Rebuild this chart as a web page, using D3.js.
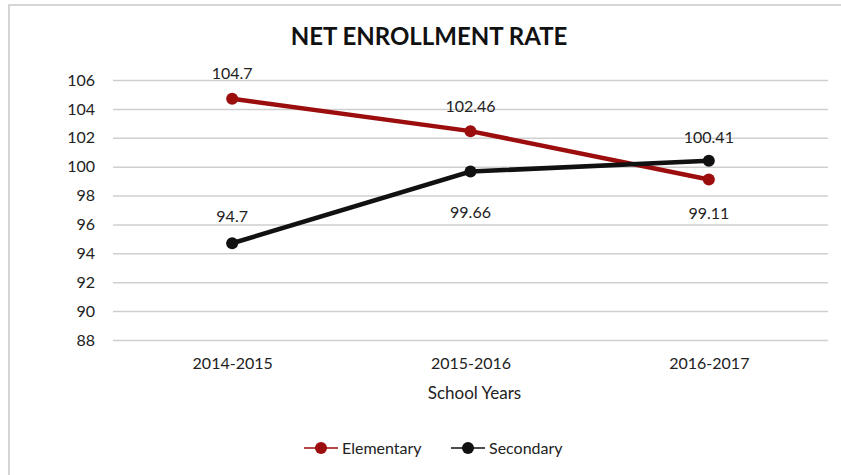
<!DOCTYPE html>
<html>
<head>
<meta charset="utf-8">
<script src="https://cdnjs.cloudflare.com/ajax/libs/d3/7.8.5/d3.min.js"></script>
<style>
body { margin: 0; background: #fff; }
text { font-family: Lato, "Open Sans", sans-serif; fill: #222; }
</style>
</head>
<body>
<script>
var years = ["2014-2015", "2015-2016", "2016-2017"];
var elementary = [104.7, 102.46, 99.11];
var secondary = [94.7, 99.66, 100.41];
var yTicks = [88, 90, 92, 94, 96, 98, 100, 102, 104, 106];

var W = 841, H = 475;
var margin = {top: 80, right: 13, bottom: 135, left: 113},
    width = W - margin.left - margin.right,
    height = H - margin.top - margin.bottom;

var svg = d3.select("body").append("svg")
    .attr("width", W)
    .attr("height", H);

// outer frame
svg.append("rect")
    .attr("x", 9).attr("y", 5)
    .attr("width", 900).attr("height", 600)
    .attr("fill", "none")
    .attr("stroke", "#c8c8c8")
    .attr("stroke-width", 1.5);

svg.append("text")
    .attr("x", 429).attr("y", 45)
    .attr("text-anchor", "middle")
    .style("font-size", "24px")
    .style("font-weight", "bold")
    .style("fill", "#111")
    .text("NET ENROLLMENT RATE");

var g = svg.append("g")
    .attr("transform", "translate(" + margin.left + "," + margin.top + ")");

var x = d3.scalePoint()
    .domain(years)
    .range([0, width])
    .padding(0.5);

var y = d3.scaleLinear()
    .domain([88, 106])
    .range([height, 0]);

// gridlines
var yAxis = d3.axisLeft(y)
    .tickValues(yTicks)
    .tickSize(-width)
    .tickPadding(18);

g.append("g")
    .attr("class", "y axis")
    .call(yAxis)
    .call(function(a) {
        a.select(".domain").remove();
        a.selectAll("line").attr("stroke", "#cfcfcf").attr("stroke-width", 1.5);
        a.selectAll("text").style("font-size", "16px").style("fill", "#222");
    });

var xAxis = d3.axisBottom(x)
    .tickSize(0)
    .tickPadding(18);

g.append("g")
    .attr("class", "x axis")
    .attr("transform", "translate(0," + height + ")")
    .call(xAxis)
    .call(function(a) {
        a.select(".domain").remove();
        a.selectAll("text").style("font-size", "16px").style("fill", "#222");
    });

g.append("text")
    .attr("x", width / 2 + 4).attr("y", height + 59)
    .attr("text-anchor", "middle")
    .style("font-size", "17px")
    .text("School Years");

var series = [
    {name: "Elementary", values: elementary, color: "#9c0d0d", labelDy: [-20, -19, 39]},
    {name: "Secondary", values: secondary, color: "#111111", labelDy: [-21, 46, -18]}
];

var line = d3.line()
    .x(function(d, i) { return x(years[i]); })
    .y(function(d) { return y(d); });

series.forEach(function(s) {
    g.append("path")
        .datum(s.values)
        .attr("fill", "none")
        .attr("stroke", s.color)
        .attr("stroke-width", 4.5)
        .attr("d", line);

    g.selectAll(null)
        .data(s.values)
        .enter().append("circle")
        .attr("cx", function(d, i) { return x(years[i]); })
        .attr("cy", function(d) { return y(d); })
        .attr("r", 6)
        .attr("fill", s.color);
});

series.forEach(function(s) {
    g.selectAll(null)
        .data(s.values)
        .enter().append("text")
        .attr("x", function(d, i) { return x(years[i]); })
        .attr("y", function(d, i) { return y(d) + s.labelDy[i]; })
        .attr("text-anchor", "middle")
        .style("font-size", "16px")
        .text(function(d) { return d; });
});

// legend
var legend = svg.append("g")
    .attr("transform", "translate(304,448)");

var item = legend.selectAll("g")
    .data(series)
    .enter().append("g")
    .attr("transform", function(d, i) { return "translate(" + (i * 147) + ",0)"; });

item.append("line")
    .attr("x1", 0).attr("x2", 34)
    .attr("stroke", function(d) { return d.color; })
    .attr("stroke-width", 1.5);

item.append("circle")
    .attr("cx", 17).attr("r", 6)
    .attr("fill", function(d) { return d.color; });

item.append("text")
    .attr("x", 38).attr("dy", "0.35em")
    .style("font-size", "16px")
    .text(function(d) { return d.name; });
</script>
</body>
</html>
